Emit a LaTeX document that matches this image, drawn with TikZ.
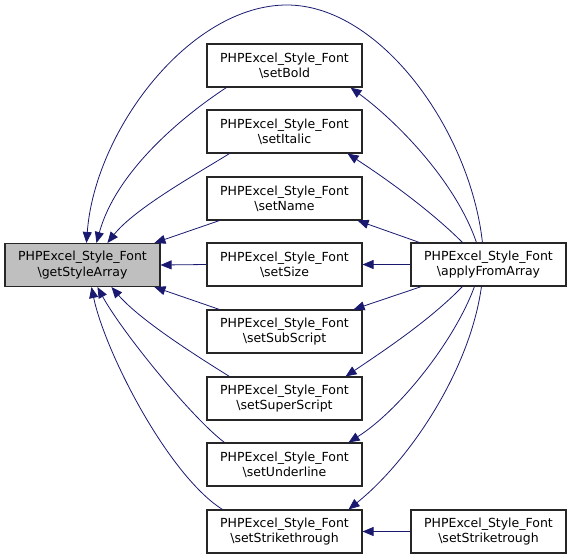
\documentclass[tikz,border=0pt]{standalone}
\usepackage{fontspec}
\setmainfont{DejaVu Sans}
\usetikzlibrary{arrows.meta,calc}
\definecolor{edgeblue}{HTML}{191970}
\definecolor{boxgrey}{HTML}{BFBFBF}
\tikzset{
  fnbox/.style={draw=black!85,line width=1.1pt,fill=white,minimum width=155pt,minimum height=43pt,
    inner sep=0pt,align=center,font=\fontsize{12.5}{15.3}\selectfont},
  hibox/.style={fnbox,fill=boxgrey},
  edge/.style={draw=edgeblue,line width=0.8pt,-{Triangle[length=11pt,width=9pt]}}
}
\begin{document}
\begin{tikzpicture}[x=1pt,y=-1pt]
\useasboundingbox (0,0) rectangle (571,558);
\node[hibox] (gsa) at (82.5,265) {PHPExcel\_Style\_Font\\\textbackslash getStyleArray};
\node[fnbox] (bold) at (284.5,65.5) {PHPExcel\_Style\_Font\\\textbackslash setBold};
\node[fnbox] (italic) at (284.5,131.5) {PHPExcel\_Style\_Font\\\textbackslash setItalic};
\node[fnbox] (name) at (284.5,198.5) {PHPExcel\_Style\_Font\\\textbackslash setName};
\node[fnbox] (size) at (284.5,264.5) {PHPExcel\_Style\_Font\\\textbackslash setSize};
\node[fnbox] (sub) at (284.5,331.5) {PHPExcel\_Style\_Font\\\textbackslash setSubScript};
\node[fnbox] (super) at (284.5,398.5) {PHPExcel\_Style\_Font\\\textbackslash setSuperScript};
\node[fnbox] (under) at (284.5,464.5) {PHPExcel\_Style\_Font\\\textbackslash setUnderline};
\node[fnbox] (strike) at (284.5,531.5) {PHPExcel\_Style\_Font\\\textbackslash setStrikethrough};
\node[fnbox] (apply) at (488.5,264.5) {PHPExcel\_Style\_Font\\\textbackslash applyFromArray};
\node[fnbox] (strk) at (488.5,531.5) {PHPExcel\_Style\_Font\\\textbackslash setStriketrough};

\coordinate (peak) at (287,5);

% edges into getStyleArray
\draw[edge] ($(apply.north west)+(72,0)$) .. controls (470,130) and (380,5) .. (peak)
  .. controls (190,5) and (95,130) .. ($(gsa.north west)+(82,0)$);
\draw[edge] ($(bold.south west)+(20,0)$) .. controls (195,108) and (118,165) .. ($(gsa.north west)+(92,0)$);
\draw[edge] ($(italic.south west)+(23,0)$) .. controls (200,172) and (135,208) .. ($(gsa.north west)+(103,0)$);
\draw[edge] ($(name.south west)+(13,0)$) -- ($(gsa.north west)+(150,0)$);
\draw[edge] (size.west) -- (gsa.east);
\draw[edge] ($(sub.north west)+(13,0)$) -- ($(gsa.south west)+(150,0)$);
\draw[edge] ($(super.north west)+(23,0)$) .. controls (195,355) and (140,320) .. ($(gsa.south west)+(107,0)$);
\draw[edge] ($(under.north west)+(18,0)$) .. controls (192,418) and (122,332) .. ($(gsa.south west)+(93,0)$);
\draw[edge] ($(strike.north west)+(16,0)$) .. controls (168,475) and (105,352) .. ($(gsa.south west)+(87,0)$);

% edges from applyFromArray
\draw[edge] ($(apply.north west)+(66,0)$) .. controls (455,180) and (395,120) .. ($(bold.south east)+(-12,0)$);
\draw[edge] ($(apply.north west)+(52,0)$) .. controls (430,210) and (385,178) .. ($(italic.south east)+(-15,0)$);
\draw[edge] ($(apply.north west)+(9,0)$) -- ($(name.south east)+(-5,0)$);
\draw[edge] (apply.west) -- (size.east);
\draw[edge] ($(apply.south west)+(11,0)$) -- ($(sub.north east)+(-9,0)$);
\draw[edge] ($(apply.south west)+(52,0)$) .. controls (430,320) and (385,350) .. ($(super.north east)+(-17,0)$);
\draw[edge] ($(apply.south west)+(64,0)$) .. controls (455,340) and (400,410) .. ($(under.north east)+(-14,0)$);
\draw[edge] ($(apply.south west)+(71,0)$) .. controls (470,370) and (410,460) .. ($(strike.north east)+(-14,0)$);

\draw[edge] (strk.west) -- (strike.east);
\end{tikzpicture}
\end{document}
